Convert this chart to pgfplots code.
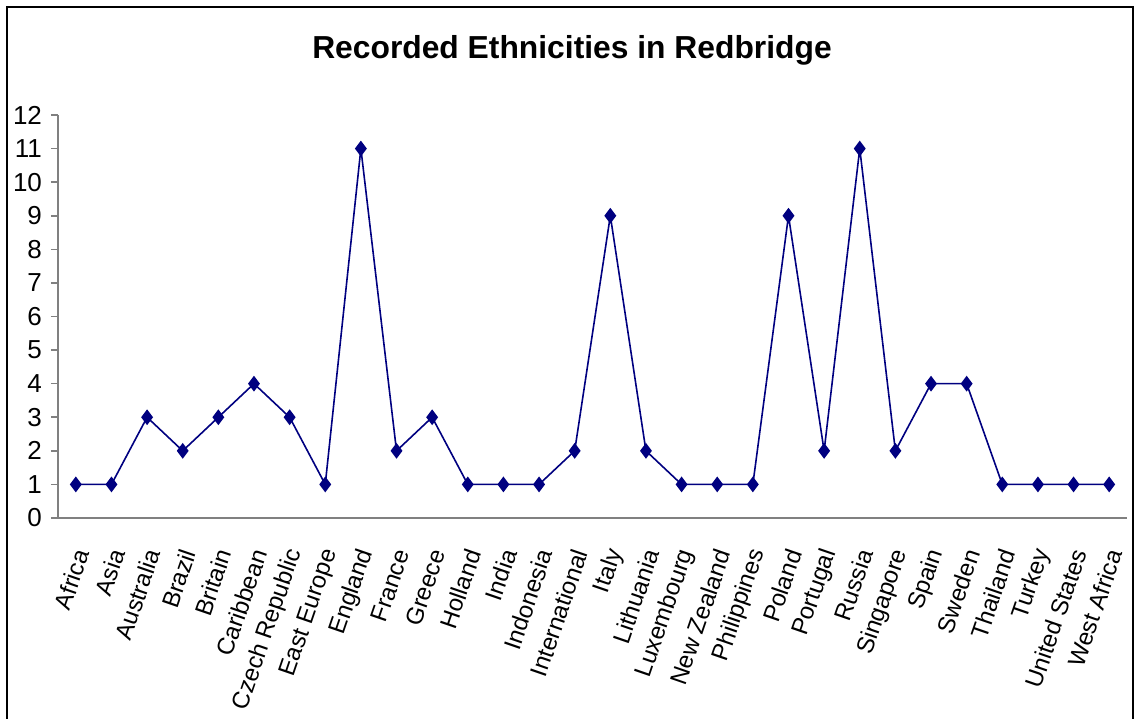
\documentclass[border=0pt]{standalone}
\usepackage{pgfplots}
\pgfplotsset{compat=1.18}
\usepackage{fontspec}
\setmainfont{Liberation Sans}
\definecolor{navyline}{RGB}{0,0,128}
\definecolor{axgray}{RGB}{128,128,128}
\begin{document}
\begin{tikzpicture}[x=1pt,y=1pt]
\clip (0,0) rectangle (567.5,359);
\useasboundingbox (0,0) rectangle (567.5,359);
\fill[white] (0,0) rectangle (567.5,359);
\draw[line width=1pt,black] (3.5,-20) rectangle (566.5,355.5);
\node[font=\bfseries\fontsize{15.9}{19}\selectfont] at (286,334) {Recorded Ethnicities in Redbridge};
\begin{axis}[
  at={(29pt,100pt)}, anchor=south west,
  scale only axis, width=534.5pt, height=201.5pt,
  xmin=-0.5, xmax=29.5, ymin=0, ymax=12,
  axis x line=bottom, axis y line=left,
  axis line style={draw=axgray, line width=0.8pt, -},
  every tick/.style={draw=axgray, line width=0.8pt},
  tick align=outside,
  ytick={0,...,12},
  major tick length=3.5pt,
  xtick={0,...,29},
  x tick style={draw=none},
  minor xtick={-0.5,0.5,...,29.5},
  minor tick length=3.5pt,
  xticklabels={Africa,Asia,Australia,Brazil,Britain,Caribbean,Czech Republic,East Europe,England,France,Greece,Holland,India,Indonesia,International,Italy,Lithuania,Luxembourg,New Zealand,Philippines,Poland,Portugal,Russia,Singapore,Spain,Sweden,Thailand,Turkey,United States,West Africa},
  xticklabel style={yshift=-12.5pt, xshift=3pt, rotate=71, anchor=east, inner sep=0pt, font=\fontsize{12}{14}\selectfont},
  yticklabel style={font=\fontsize{13}{14}\selectfont, xshift=-1pt},
  /pgf/number format/assume math mode=true,
  clip=false,
]
\addplot[color=navyline, line width=0.8pt, mark=diamond*, mark size=3.3pt, mark options={fill=navyline, draw=navyline}]
coordinates {
(0,1)(1,1)(2,3)(3,2)(4,3)(5,4)(6,3)(7,1)(8,11)(9,2)(10,3)(11,1)(12,1)(13,1)(14,2)(15,9)(16,2)(17,1)(18,1)(19,1)(20,9)(21,2)(22,11)(23,2)(24,4)(25,4)(26,1)(27,1)(28,1)(29,1)
};
\end{axis}
\end{tikzpicture}
\end{document}
